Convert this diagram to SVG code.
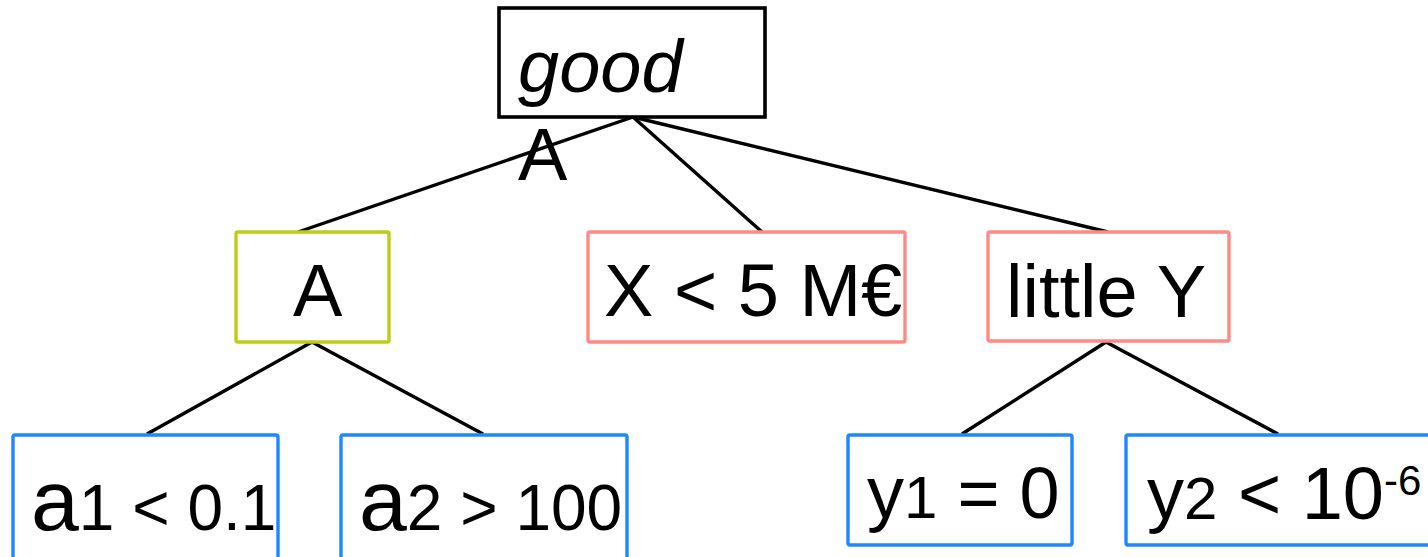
<svg xmlns="http://www.w3.org/2000/svg" width="1428" height="557" viewBox="0 0 1428 557">
<style>
text{font-family:"Liberation Sans",Arial,sans-serif;fill:#000}
.big{font-size:74px}
.box{fill:#fff;stroke-width:3.4}
.root{stroke:#000;stroke-width:3.6;fill:#fff}
.green{stroke:#bdcc14}
.red{stroke:#ff8a84}
.blue{stroke:#1e87ff}
.edge{stroke:#000;stroke-width:3.4;fill:none}
</style>
<rect width="1428" height="557" fill="#fff"/>
<g id="connectors">
<line class="edge" x1="633" y1="117" x2="298" y2="232"/>
<line class="edge" x1="633" y1="117" x2="762" y2="232"/>
<line class="edge" x1="633" y1="117" x2="1108" y2="232"/>
<line class="edge" x1="312" y1="342" x2="147" y2="434"/>
<line class="edge" x1="312" y1="342" x2="483" y2="434"/>
<line class="edge" x1="1106" y1="342" x2="962" y2="434"/>
<line class="edge" x1="1106" y1="342" x2="1278" y2="434"/>
</g>
<g id="node-good">
<rect class="root" x="499" y="8" width="266" height="109"/>
<text class="big" x="518" y="92" font-style="italic">good</text>
</g>
<g id="label-A">
<text class="big" x="518" y="180">A</text>
</g>
<g id="node-A">
<rect class="box green" x="236" y="232" width="153" height="110" rx="2"/>
<text class="big" x="293" y="316">A</text>
</g>
<g id="node-X">
<rect class="box red" x="588" y="232" width="317" height="110" rx="2"/>
<text class="big" x="604" y="316">X &lt; 5 M€</text>
</g>
<g id="node-littleY">
<rect class="box red" x="988" y="232" width="241" height="109" rx="2"/>
<text class="big" x="1006" y="317">little Y</text>
</g>
<g id="node-a1">
<rect class="box blue" x="13" y="435" width="265" height="124" rx="2"/>
<text x="31" y="530"><tspan font-size="86">a</tspan><tspan font-size="64">1 &lt; 0.1</tspan></text>
</g>
<g id="node-a2">
<rect class="box blue" x="341" y="435" width="286" height="124" rx="2"/>
<text x="359" y="530"><tspan font-size="86">a</tspan><tspan font-size="64">2 &gt; 100</tspan></text>
</g>
<g id="node-y1">
<rect class="box blue" x="848" y="435" width="224" height="110" rx="2"/>
<text x="867" y="518"><tspan font-size="74">y</tspan><tspan font-size="60">1</tspan><tspan font-size="72"> = 0</tspan></text>
</g>
<g id="node-y2">
<rect class="box blue" x="1126" y="435" width="310" height="110" rx="2"/>
<text x="1147" y="519"><tspan font-size="74">y</tspan><tspan font-size="60">2</tspan><tspan font-size="74"> &lt; 10</tspan><tspan font-size="42" dy="-24">-6</tspan></text>
</g>
</svg>
